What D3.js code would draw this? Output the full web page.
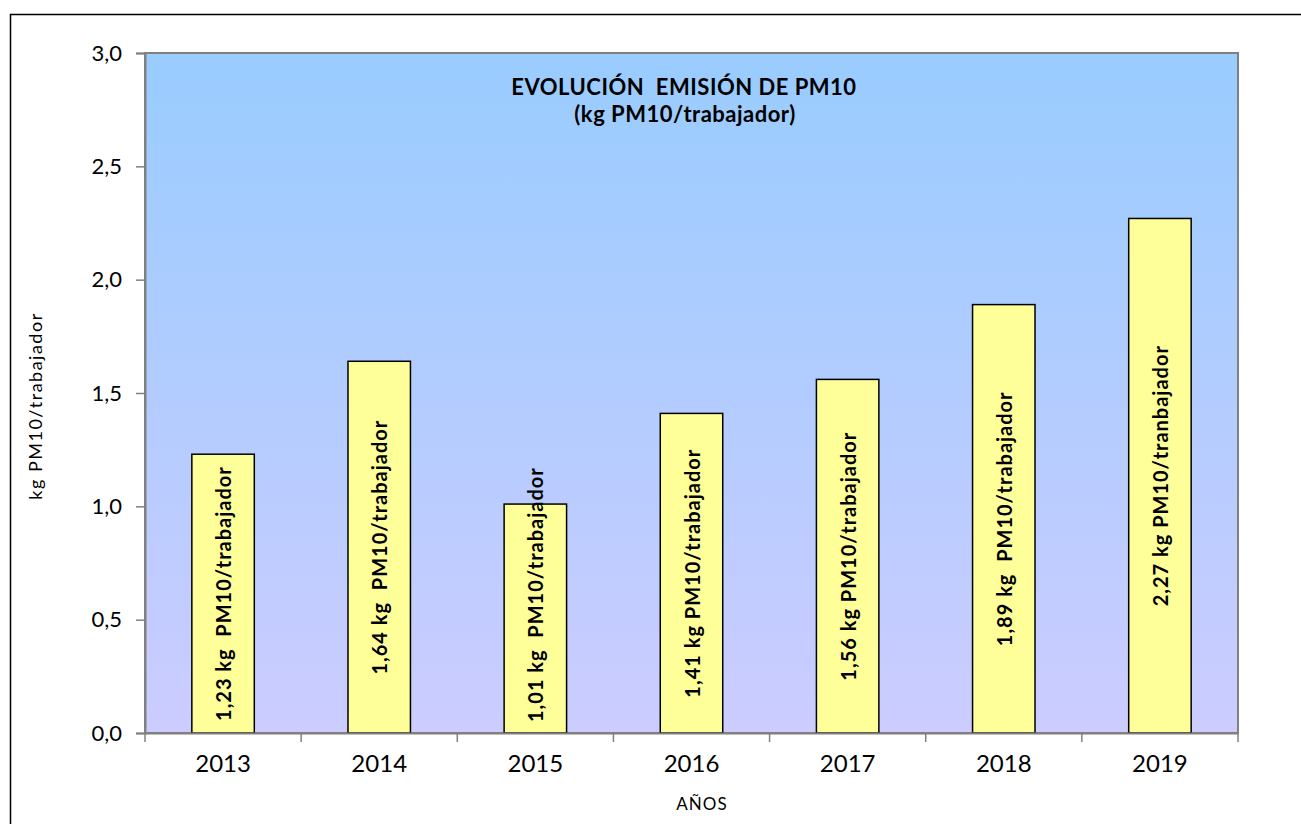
<!DOCTYPE html>
<html>
<head>
<meta charset="utf-8">
<script src="https://cdn.jsdelivr.net/npm/d3@7"></script>
<style>
  body { margin: 0; background: #fff; }
  svg { display: block; }
  .lbl { white-space: pre; }
</style>
</head>
<body>
<svg id="chart" width="1301" height="824"></svg>
<script>
// chart data
var years = ['2013', '2014', '2015', '2016', '2017', '2018', '2019'];
var values = [1.23, 1.64, 1.01, 1.41, 1.56, 1.89, 2.27];
var barLabels = [
    '1,23 kg  PM10/trabajador',
    '1,64 kg  PM10/trabajador',
    '1,01 kg  PM10/trabajador',
    '1,41 kg PM10/trabajador',
    '1,56 kg PM10/trabajador',
    '1,89 kg  PM10/trabajador',
    '2,27 kg PM10/tranbajador'
];
var yTicks = [0, 0.5, 1, 1.5, 2, 2.5, 3];

var svg = d3.select('#chart');

// plot area
var plot = {left: 145, top: 53, right: 1238, bottom: 733};

var xScale = d3.scaleBand()
    .domain(years)
    .range([plot.left, plot.right])
    .paddingInner(0.6)
    .paddingOuter(0.3);

var yScale = d3.scaleLinear()
    .domain([0, 3])
    .range([plot.bottom, plot.top]);

// outer frame
svg.append('rect')
    .attr('x', 10.5).attr('y', 14.5)
    .attr('width', 1320).attr('height', 840)
    .attr('fill', 'none')
    .attr('stroke', '#000')
    .attr('stroke-width', 1.5);

// background gradient
var grad = svg.append('defs').append('linearGradient')
    .attr('id', 'bg')
    .attr('x1', 0).attr('y1', 0).attr('x2', 0).attr('y2', 1);
grad.append('stop').attr('offset', '0%').attr('stop-color', '#99ccff');
grad.append('stop').attr('offset', '100%').attr('stop-color', '#ccccff');

svg.append('rect')
    .attr('x', plot.left).attr('y', plot.top)
    .attr('width', plot.right - plot.left)
    .attr('height', plot.bottom - plot.top)
    .attr('fill', 'url(#bg)')
    .attr('stroke', '#808080')
    .attr('stroke-width', 2);

// bars
svg.selectAll('.bar')
    .data(values)
    .enter()
    .append('rect')
    .attr('class', 'bar')
    .attr('x', function(d, i) { return xScale(years[i]); })
    .attr('y', function(d) { return yScale(d); })
    .attr('width', xScale.bandwidth())
    .attr('height', function(d) { return yScale(0) - yScale(d); })
    .attr('fill', '#ffff99')
    .attr('stroke', '#000')
    .attr('stroke-width', 1.5);

// labels inside bars, centred, kept above the axis
svg.selectAll('.lbl')
    .data(values)
    .enter()
    .append('text')
    .attr('class', 'lbl')
    .attr('text-anchor', 'middle')
    .attr('dominant-baseline', 'central')
    .style('font-family', 'Lato, sans-serif')
    .style('font-weight', 'bold')
    .style('font-size', '20px')
    .style('letter-spacing', '1px')
    .text(function(d, i) { return barLabels[i]; })
    .each(function(d, i) {
        var len = this.getComputedTextLength();
        var cy = (yScale(d) + yScale(0)) / 2;
        var maxBottom = yScale(0) - 11;
        if (cy + len / 2 > maxBottom) cy = maxBottom - len / 2;
        var cx = xScale(years[i]) + xScale.bandwidth() / 2;
        d3.select(this).attr('transform', 'translate(' + cx + ',' + cy + ') rotate(-90)');
    });

// y axis
var yAxis = svg.append('g')
    .attr('transform', 'translate(' + plot.left + ',0)')
    .call(d3.axisLeft(yScale)
        .tickValues(yTicks)
        .tickSize(9)
        .tickPadding(14)
        .tickFormat(function(d) { return d.toFixed(1).replace('.', ','); }));
yAxis.select('.domain').attr('stroke', '#808080').attr('stroke-width', 2);
yAxis.selectAll('line').attr('stroke', '#808080').attr('stroke-width', 1.5);
yAxis.selectAll('text')
    .style('font-family', 'Lato, sans-serif')
    .style('font-size', '22px')
    .attr('fill', '#000');

// x axis with ticks between categories
var xAxis = svg.append('g')
    .attr('transform', 'translate(0,' + plot.bottom + ')')
    .call(d3.axisBottom(xScale).tickSize(0).tickPadding(22));
xAxis.select('.domain').attr('stroke', '#808080').attr('stroke-width', 2);
xAxis.selectAll('text')
    .style('font-family', 'Lato, sans-serif')
    .style('font-size', '24px')
    .attr('fill', '#000');

var step = xScale.step();
var bounds = d3.range(years.length + 1).map(function(i) { return plot.left + i * step; });
xAxis.selectAll('.sep')
    .data(bounds)
    .enter()
    .append('line')
    .attr('class', 'sep')
    .attr('x1', function(d) { return d; })
    .attr('x2', function(d) { return d; })
    .attr('y1', 0)
    .attr('y2', 9)
    .attr('stroke', '#808080')
    .attr('stroke-width', 1.5);

// title
var title = svg.append('text')
    .attr('text-anchor', 'middle')
    .style('font-family', 'Lato, sans-serif')
    .style('font-weight', 'bold')
    .style('font-size', '22px')
    .style('letter-spacing', '0.5px')
    .attr('class', 'lbl');
title.append('tspan').attr('x', 684).attr('y', 95).text('EVOLUCIÓN  EMISIÓN DE PM10');
title.append('tspan').attr('x', 685).attr('y', 122).text('(kg PM10/trabajador)');

// axis titles
svg.append('text')
    .attr('text-anchor', 'middle')
    .attr('transform', 'translate(42,406) rotate(-90)')
    .style('font-family', 'Lato, sans-serif')
    .style('font-size', '18px')
    .style('letter-spacing', '1.5px')
    .text('kg PM10/trabajador');

svg.append('text')
    .attr('x', 702)
    .attr('y', 810)
    .attr('text-anchor', 'middle')
    .style('font-family', 'Lato, sans-serif')
    .style('font-size', '17px')
    .style('letter-spacing', '1px')
    .text('AÑOS');
</script>
</body>
</html>
